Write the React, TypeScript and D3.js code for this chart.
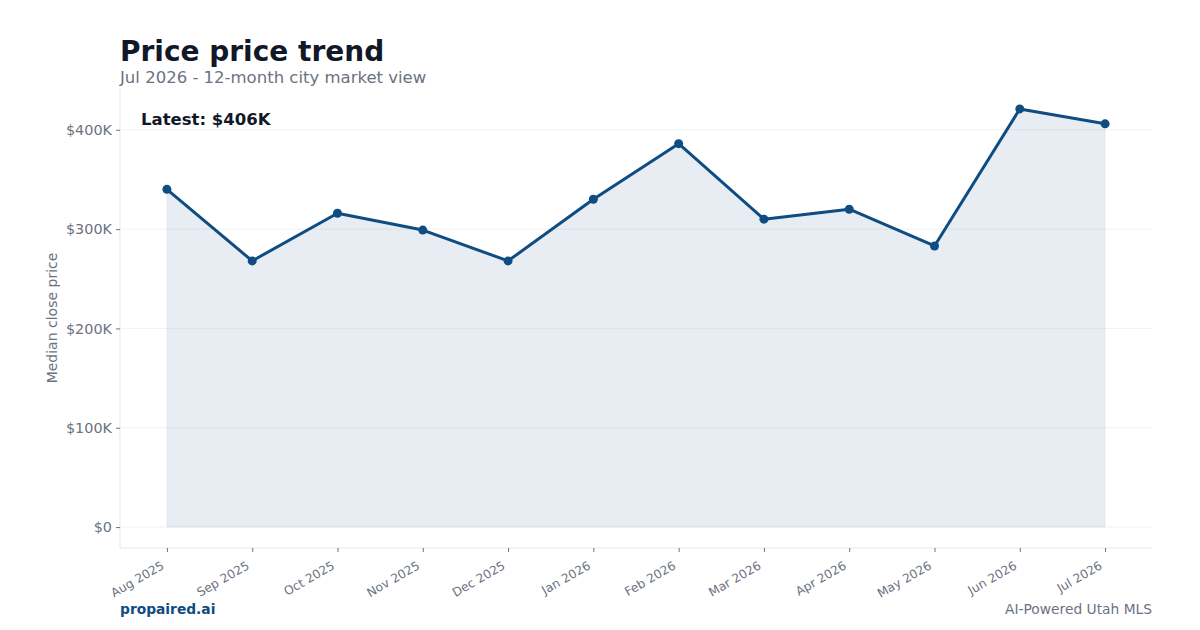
import * as d3 from "d3";
import { useEffect, useRef } from "react";

const months = [
  "Aug 2025", "Sep 2025", "Oct 2025", "Nov 2025", "Dec 2025", "Jan 2026",
  "Feb 2026", "Mar 2026", "Apr 2026", "May 2026", "Jun 2026", "Jul 2026",
];
const prices = [340, 268, 316, 299, 268, 330, 386, 310, 320, 283, 421, 406]; // $K
const yTicks = [0, 100, 200, 300, 400];

const W = 1200;
const H = 630;
const FONT = "DejaVu Sans, sans-serif";
const LINE = "#0f4c81";

const App = () => {
  const ref = useRef<SVGSVGElement>(null);

  useEffect(() => {
    const svg = d3.select(ref.current);
    svg.selectAll("*").remove();

    const left = 120, right = 1152, top = 88, bottom = 548;
    const n = months.length;
    const yMax = d3.max(prices)!;
    const pad = yMax * 0.05;

    const x = d3.scaleLinear().domain([-0.55, n - 1 + 0.55]).range([left, right]);
    const y = d3.scaleLinear().domain([-pad, yMax + pad]).range([bottom, top]);

    svg.append("rect").attr("width", W).attr("height", H).attr("fill", "#fff");

    // grid
    svg.append("g")
      .selectAll("line")
      .data(yTicks)
      .join("line")
      .attr("x1", left).attr("x2", right)
      .attr("y1", d => y(d)).attr("y2", d => y(d))
      .attr("stroke", "#f1f2f4").attr("stroke-width", 1);

    // area
    const area = d3.area<number>()
      .x((_, i) => x(i))
      .y0(y(0))
      .y1(d => y(d));
    svg.append("path")
      .datum(prices)
      .attr("d", area)
      .attr("fill", LINE).attr("fill-opacity", 0.1)
      .attr("stroke", LINE).attr("stroke-opacity", 0.06);

    // spines
    svg.append("line").attr("x1", left).attr("x2", left).attr("y1", top).attr("y2", bottom)
      .attr("stroke", "#e5e7eb");
    svg.append("line").attr("x1", left).attr("x2", right).attr("y1", bottom).attr("y2", bottom)
      .attr("stroke", "#e5e7eb");

    // y axis
    const yAxis = svg.append("g")
      .attr("transform", `translate(${left},0)`)
      .call(d3.axisLeft(y).tickValues(yTicks).tickSize(4).tickPadding(4)
        .tickFormat(d => `$${d}${+d === 0 ? "" : "K"}`));
    yAxis.select(".domain").remove();
    yAxis.selectAll("line").attr("stroke", "#6b7280");
    yAxis.selectAll("text").attr("fill", "#6b7280").style("font", `14.4px ${FONT}`);

    // x axis
    const xAxis = svg.append("g")
      .attr("transform", `translate(0,${bottom})`)
      .call(d3.axisBottom(x).tickValues(d3.range(n)).tickSize(4)
        .tickFormat(i => months[+i]));
    xAxis.select(".domain").remove();
    xAxis.selectAll("line").attr("stroke", "#6b7280");
    xAxis.selectAll("text")
      .attr("fill", "#6b7280")
      .style("font", `12.2px ${FONT}`)
      .attr("text-anchor", "end")
      .attr("dy", "0")
      .attr("transform", "translate(-6,14) rotate(-30)");

    // line + markers
    const line = d3.line<number>().x((_, i) => x(i)).y(d => y(d));
    svg.append("path")
      .datum(prices)
      .attr("d", line)
      .attr("fill", "none")
      .attr("stroke", LINE).attr("stroke-width", 3)
      .attr("stroke-linejoin", "round");
    svg.append("g")
      .selectAll("circle")
      .data(prices)
      .join("circle")
      .attr("cx", (_, i) => x(i)).attr("cy", d => y(d))
      .attr("r", 4.5).attr("fill", LINE);

    // text
    svg.append("text").attr("x", 120).attr("y", 61)
      .attr("fill", "#111827").style("font", `bold 28px ${FONT}`)
      .text("Price price trend");
    svg.append("text").attr("x", 120).attr("y", 83)
      .attr("fill", "#6b7280").style("font", `16.5px ${FONT}`)
      .text("Jul 2026 - 12-month city market view");
    svg.append("text").attr("x", 141).attr("y", 125)
      .attr("fill", "#111827").style("font", `bold 16.5px ${FONT}`)
      .text(`Latest: $${prices[n - 1]}K`);
    svg.append("text")
      .attr("transform", `translate(57,${(top + bottom) / 2}) rotate(-90)`)
      .attr("text-anchor", "middle")
      .attr("fill", "#6b7280").style("font", `14px ${FONT}`)
      .text("Median close price");
    svg.append("text").attr("x", 120).attr("y", 614)
      .attr("fill", LINE).style("font", `bold 13.8px ${FONT}`)
      .text("propaired.ai");
    svg.append("text").attr("x", 1152).attr("y", 614).attr("text-anchor", "end")
      .attr("fill", "#6b7280").style("font", `13.8px ${FONT}`)
      .text("AI-Powered Utah MLS");
  }, []);

  return (
    <svg ref={ref} width={W} height={H}
      style={{ position: "absolute", left: 0, top: 0, display: "block" }} />
  );
};

export default App;
